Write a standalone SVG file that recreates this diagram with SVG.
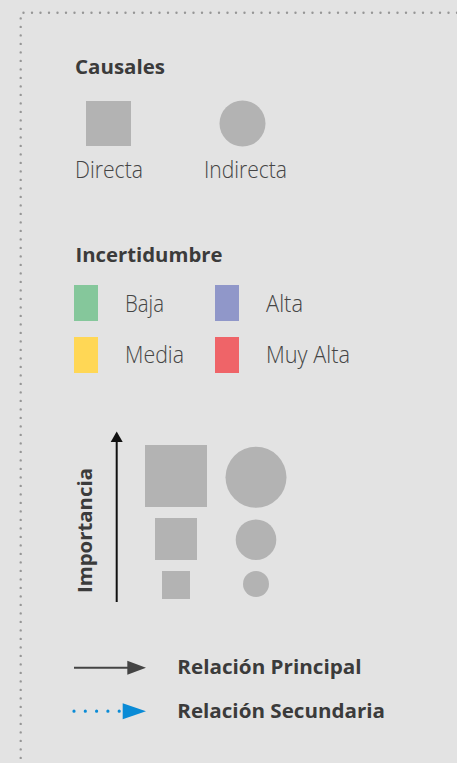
<svg xmlns="http://www.w3.org/2000/svg" width="457" height="763" viewBox="0 0 457 763">
<defs>
<style>
.bg{fill:#e3e3e3}
.border{stroke:#969696;stroke-width:2.4;stroke-linecap:round;stroke-dasharray:0 8.5;fill:none}
.h{font-family:"Open Sans","Liberation Sans",sans-serif;font-weight:700;font-size:20px;fill:#3b3b3b}
.t{font-family:"Open Sans","Liberation Sans",sans-serif;font-weight:300;font-size:23px;fill:#454545}
.shape{fill:#b3b3b3}
</style>
</defs>
<rect class="bg" x="0" y="0" width="457" height="763"/>
<path class="border" d="M457,12.7 H20.7 V763"/>

<g id="causales">
<text class="h" x="75" y="74" textLength="90" lengthAdjust="spacingAndGlyphs">Causales</text>
<rect class="shape" x="86" y="101" width="45" height="45"/>
<circle class="shape" cx="242.5" cy="123.5" r="23"/>
<text class="t" x="75" y="178" textLength="68" lengthAdjust="spacingAndGlyphs">Directa</text>
<text class="t" x="204" y="178" textLength="83" lengthAdjust="spacingAndGlyphs">Indirecta</text>
</g>

<g id="incertidumbre">
<text class="h" x="75.5" y="262.3" textLength="147" lengthAdjust="spacingAndGlyphs">Incertidumbre</text>
<rect x="74" y="285" width="24" height="36" fill="#85c79b"/>
<rect x="215" y="285" width="24" height="36" fill="#9097c9"/>
<rect x="74" y="337" width="24" height="36" fill="#ffd755"/>
<rect x="215" y="337" width="24" height="36" fill="#ef6468"/>
<text class="t" x="125" y="311.7" textLength="39" lengthAdjust="spacingAndGlyphs">Baja</text>
<text class="t" x="266" y="311.7" textLength="37" lengthAdjust="spacingAndGlyphs">Alta</text>
<text class="t" x="125" y="363.3" textLength="59" lengthAdjust="spacingAndGlyphs">Media</text>
<text class="t" x="266" y="363.3" textLength="84" lengthAdjust="spacingAndGlyphs">Muy Alta</text>
</g>

<g id="importancia">
<text class="h" transform="translate(92.3,593) rotate(-90)" textLength="125" lengthAdjust="spacingAndGlyphs">Importancia</text>
<line x1="116.7" y1="602" x2="116.7" y2="442" stroke="#111" stroke-width="2"/>
<path d="M110.7,442 L116.7,431.5 L122.7,442 Z" fill="#111"/>
<rect class="shape" x="145" y="445" width="62" height="62"/>
<rect class="shape" x="155" y="518" width="42" height="42"/>
<rect class="shape" x="162" y="571" width="28" height="28"/>
<circle class="shape" cx="256" cy="477.3" r="30.5"/>
<circle class="shape" cx="256" cy="539.7" r="20.3"/>
<circle class="shape" cx="256" cy="584" r="13"/>
</g>

<g id="connectors">
<line x1="74" y1="667.7" x2="128" y2="667.7" stroke="#444" stroke-width="2"/>
<path d="M127.3,660.7 L146,667.7 L127.3,674.7 Z" fill="#444"/>
<line x1="74" y1="711.2" x2="120" y2="711.2" stroke="#0a8bd6" stroke-width="3.2" stroke-linecap="round" stroke-dasharray="0 11.3"/>
<path d="M122.7,703.3 L146,711.3 L122.7,719.3 Z" fill="#0a8bd6"/>
</g>

<g id="relaciones">
<text class="h" x="177.3" y="674.3" textLength="184.3" lengthAdjust="spacingAndGlyphs">Relación Principal</text>
<text class="h" x="177.3" y="718.3" textLength="207.7" lengthAdjust="spacingAndGlyphs">Relación Secundaria</text>
</g>
</svg>
